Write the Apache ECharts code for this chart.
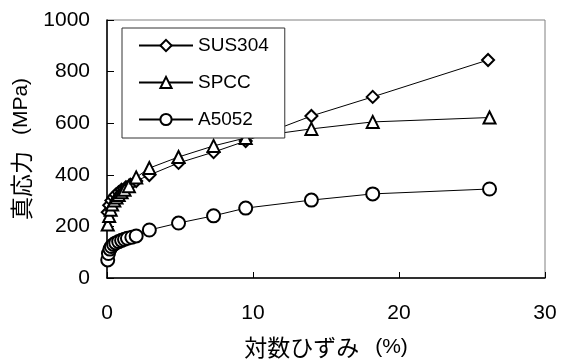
<!DOCTYPE html>
<html>
<head>
<meta charset="utf-8">
<script src="https://cdn.jsdelivr.net/npm/echarts@6/dist/echarts.min.js"></script>
<style>
  html, body { margin: 0; padding: 0; background: #fff; }
  #chart { width: 564px; height: 361px; }
</style>
</head>
<body>
<div id="chart"></div>
<script>
// True stress vs. logarithmic strain for three sheet materials
const seriesNames = ['SUS304', 'SPCC', 'A5052'];

const sus304Strain = [0.05, 0.15, 0.3, 0.45, 0.6, 0.8, 1.0, 1.3, 1.6, 2.0, 2.9, 4.9, 7.3, 9.5, 14.0, 18.2, 26.1];
const sus304Stress = [255, 282, 300, 313, 323, 333, 342, 352, 362, 376, 399, 446, 488, 531, 628, 702, 845];

const spccStrain = [0.05, 0.15, 0.25, 0.35, 0.5, 0.65, 0.8, 1.0, 1.2, 1.5, 2.0, 2.9, 4.9, 7.3, 9.5, 14.0, 18.2, 26.2];
const spccStress = [207, 240, 265, 285, 300, 312, 322, 332, 342, 356, 390, 426, 469, 512, 543, 578, 605, 622];

const a5052Strain = [0.05, 0.1, 0.2, 0.3, 0.45, 0.6, 0.8, 1.0, 1.2, 1.4, 1.7, 2.0, 2.9, 4.9, 7.3, 9.5, 14.0, 18.2, 26.2];
const a5052Stress = [70, 95, 112, 122, 130, 136, 141, 146, 150, 154, 158, 163, 186, 213, 241, 271, 302, 326, 345];

const xTicks = [0, 10, 20, 30];
const yTicks = [0, 200, 400, 600, 800, 1000];

const pairs = (xs, ys) => xs.map((v, i) => [v, ys[i]]);

const latin = '"Liberation Sans", Arial, sans-serif';
const cjk = '"Noto Sans CJK JP", "Liberation Sans", sans-serif';

function lineSeries(name, xs, ys, symbol, size) {
  return {
    name: name,
    type: 'line',
    data: pairs(xs, ys),
    symbol: symbol,
    symbolSize: size,
    showAllSymbol: true,
    lineStyle: { color: '#000', width: 1 },
    itemStyle: { color: '#fff', borderColor: '#000', borderWidth: 2 },
    emphasis: { disabled: true },
    animation: false
  };
}

const titleRich = {
  c: { fontSize: 23, fontFamily: cjk, color: '#000' },
  p: { fontSize: 21, fontFamily: latin, color: '#000', padding: [0, 0, 0, 16] }
};

const chart = echarts.init(document.getElementById('chart'), null, { renderer: 'canvas' });
chart.setOption({
  backgroundColor: '#fff',
  animation: false,
  grid: {
    left: 107, right: 19, top: 20, bottom: 83,
    containLabel: false,
    outerBoundsMode: 'none',
    show: true, borderColor: '#808080', borderWidth: 1, backgroundColor: 'transparent'
  },
  legend: {
    data: seriesNames,
    orient: 'vertical',
    left: 122, top: 28,
    padding: [8, 16, 9, 16],
    itemWidth: 54, itemHeight: 14, itemGap: 18,
    backgroundColor: '#fff',
    borderColor: '#333', borderWidth: 1,
    textStyle: { color: '#000', fontSize: 19, fontFamily: latin },
    selectedMode: false
  },
  xAxis: {
    type: 'value',
    min: xTicks[0], max: xTicks[xTicks.length - 1], interval: 10,
    axisLine: { show: true, lineStyle: { color: '#000', width: 1.5 } },
    axisTick: { show: true, inside: true, length: 6, lineStyle: { color: '#000' } },
    axisLabel: { color: '#000', fontSize: 21, fontFamily: latin, margin: 25, formatter: v => String(v) },
    splitLine: { show: false },
    name: '{c|対数ひずみ}{p|(%)}',
    nameLocation: 'middle',
    nameGap: 58,
    nameTextStyle: { rich: titleRich }
  },
  yAxis: {
    type: 'value',
    min: yTicks[0], max: yTicks[yTicks.length - 1], interval: 200,
    axisLine: { show: true, lineStyle: { color: '#000', width: 1.5 } },
    axisTick: { show: true, inside: true, length: 7, lineStyle: { color: '#000' } },
    axisLabel: { color: '#000', fontSize: 21, fontFamily: latin, margin: 17, formatter: v => String(v) },
    splitLine: { show: false },
    name: '{c|真応力}{p|(MPa)}',
    nameLocation: 'middle',
    nameGap: 66,
    nameTextStyle: { rich: titleRich }
  },
  series: [
    lineSeries(seriesNames[0], sus304Strain, sus304Stress, 'diamond', 12),
    lineSeries(seriesNames[1], spccStrain, spccStress, 'triangle', 12),
    lineSeries(seriesNames[2], a5052Strain, a5052Stress, 'circle', 13)
  ]
});
</script>
</body>
</html>
